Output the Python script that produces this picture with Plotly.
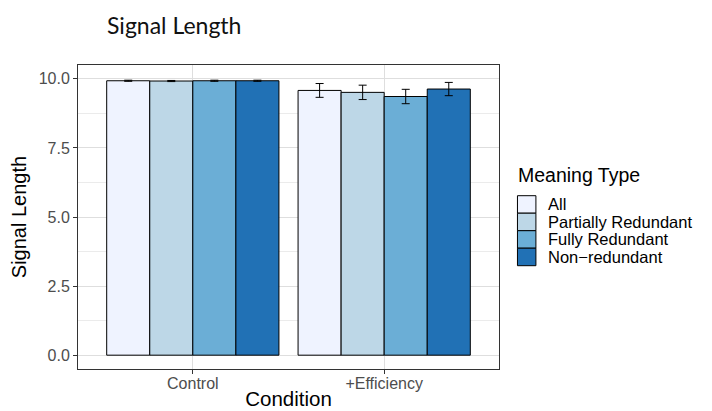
import plotly.graph_objects as go

conditions = ["Control", "+Efficiency"]
meaning_types = ["All", "Partially Redundant", "Fully Redundant", "Non\u2212redundant"]
signal_length = {
    "All": [9.93, 9.58],
    "Partially Redundant": [9.92, 9.51],
    "Fully Redundant": [9.93, 9.36],
    "Non\u2212redundant": [9.93, 9.63],
}
error_half = {
    "All": [0.02, 0.25],
    "Partially Redundant": [0.02, 0.26],
    "Fully Redundant": [0.02, 0.26],
    "Non\u2212redundant": [0.02, 0.24],
}
colors = ["#EFF3FF", "#BDD7E7", "#6BAED6", "#2171B5"]
x_pos = [1, 2]

W, H = 712, 411
PL, PR, PT, PB = 77.5, 499.5, 65.3, 369.3
fig = go.Figure()
for mt, col in zip(meaning_types, colors):
    fig.add_trace(go.Bar(
        x=x_pos, y=signal_length[mt], name=mt,
        marker=dict(color=col, line=dict(color="#000000", width=1)),
        error_y=dict(type="data", array=error_half[mt], color="#000000",
                     thickness=1, width=4),
        showlegend=False,
    ))

# Manual ggplot-style legend
leg_left, leg_top, key_w, key_h = 518, 196, 18.5, 17.5
def px_x(x):
    return (x - PL) / (PR - PL)
def px_y(y):
    return (PB - y) / (PB - PT)

fig.add_annotation(text="Meaning Type", xref="paper", yref="paper",
                   x=px_x(leg_left - 1), y=px_y(175),
                   xanchor="left", yanchor="middle", showarrow=False,
                   font=dict(size=19.5, color="#000000"))
for i, (mt, col) in enumerate(zip(meaning_types, colors)):
    y0 = leg_top + i * key_h
    fig.add_shape(type="rect", xref="paper", yref="paper",
                  x0=px_x(leg_left), x1=px_x(leg_left + key_w),
                  y0=px_y(y0), y1=px_y(y0 + key_h),
                  fillcolor=col, line=dict(color="#000000", width=1))
    fig.add_annotation(text=mt, xref="paper", yref="paper",
                       x=px_x(547), y=px_y(y0 + key_h / 2),
                       xanchor="left", yanchor="middle", showarrow=False,
                       font=dict(size=16.5, color="#000000"))

font_main = "Liberation Sans, Arial, sans-serif"
fig.update_layout(
    width=W, height=H,
    barmode="group", bargap=0.1, bargroupgap=0,
    plot_bgcolor="white", paper_bgcolor="white",
    margin=dict(l=PL, r=W - PR, t=PT, b=H - PB, autoexpand=False),
    font=dict(family=font_main, color="#000000"),
    title=dict(text="Signal Length", x=107/W, xref="container", xanchor="left",
               y=1 - 25.5/H, yref="container", yanchor="middle",
               font=dict(family="Lato, Noto Sans, sans-serif", size=23, color="#111111")),
    showlegend=False,
)
fig.update_xaxes(
    range=[0.4, 2.6], tickvals=x_pos, ticktext=conditions,
    showgrid=True, gridcolor="#DEDEDE", gridwidth=1,
    ticks="outside", ticklen=4, tickcolor="#333333",
    tickfont=dict(size=16, color="#4D4D4D"), ticklabelstandoff=-4,
    showline=True, linecolor="#333333", linewidth=1, mirror=True,
    zeroline=False, automargin=False,
    title=dict(text="Condition", font=dict(size=20.5), standoff=0),
)
fig.update_yaxes(
    range=[-0.5, 10.5], tickvals=[0, 2.5, 5, 7.5, 10],
    ticktext=["0.0", "2.5", "5.0", "7.5", "10.0"],
    showgrid=True, gridcolor="#DEDEDE", gridwidth=1,
    minor=dict(tickvals=[1.25, 3.75, 6.25, 8.75], showgrid=True, gridcolor="#EBEBEB", gridwidth=1),
    ticks="outside", ticklen=4, tickcolor="#333333",
    tickfont=dict(size=16, color="#4D4D4D"),
    showline=True, linecolor="#333333", linewidth=1, mirror=True,
    zeroline=False, automargin=False,
    title=dict(text="Signal Length", font=dict(size=20), standoff=6),
)
fig.write_html("out.html", config={"displayModeBar": False},
               post_script="document.body.style.margin='0';")
